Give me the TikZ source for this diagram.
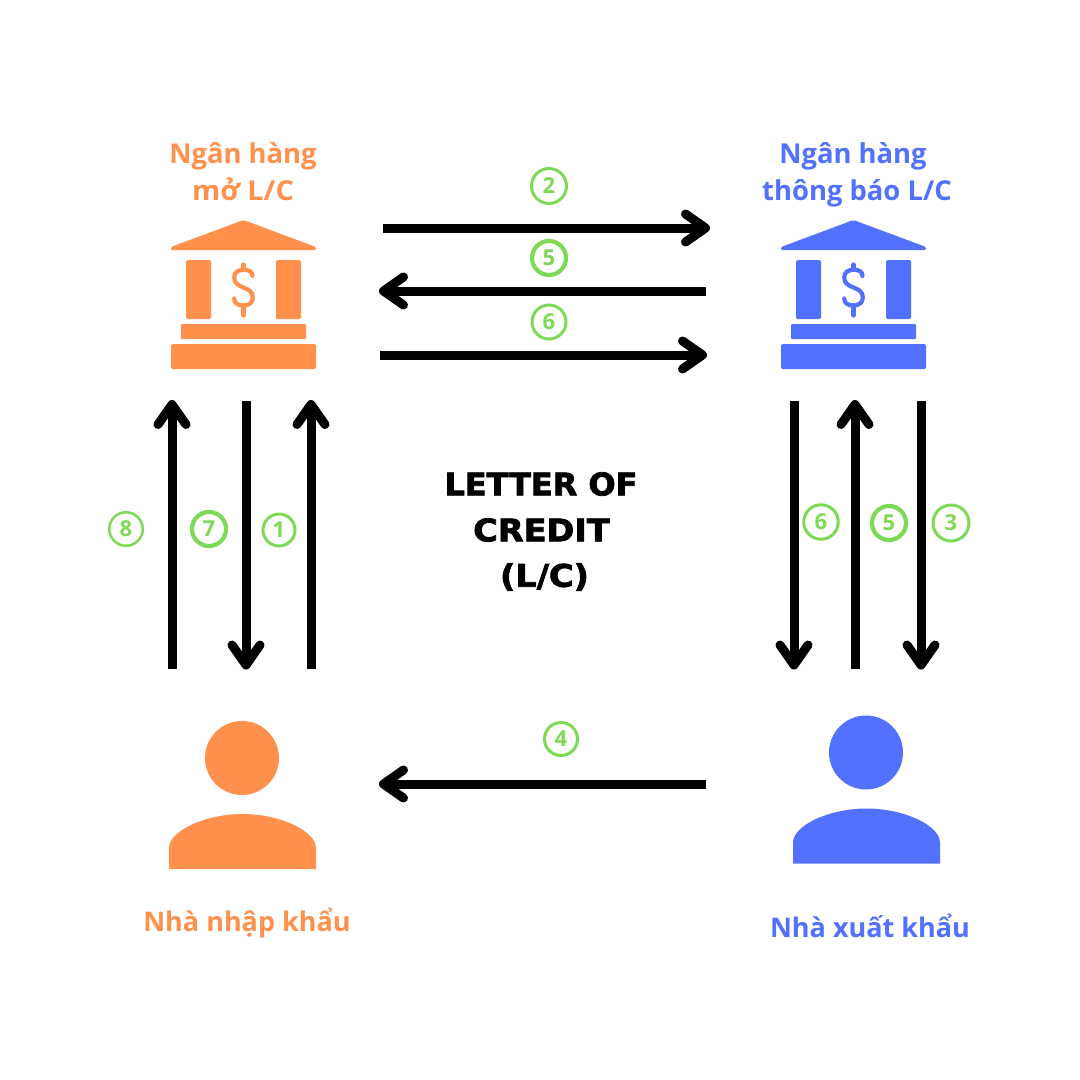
\documentclass[tikz,border=0pt]{standalone}
\usepackage{fontspec}
\usepackage{graphicx}
\setmainfont{Open Sans}
\newfontfamily\titlefont[FakeBold=2.5,FakeStretch=1.03]{DejaVu Sans Bold}
\usetikzlibrary{arrows.meta}
\definecolor{orangec}{HTML}{FF914D}
\definecolor{bluec}{HTML}{5271FF}
\definecolor{greenc}{HTML}{7ED957}
\tikzset{
  flow/.style={line width=9pt,draw=black,-{Straight Barb[round,length=20pt,width=28pt,line width=9pt]}},
  num/.style={circle,draw=greenc,text=greenc,inner sep=0pt,minimum size=#1,font=\fontsize{22}{22}\selectfont\bfseries},
  numthin/.style={num=#1,line width=3pt},
  numthick/.style={num=#1,line width=4.2pt},
  lab/.style={inner sep=0pt,anchor=base,font=\fontsize{27.4}{27.4}\selectfont\bfseries},
  labsmall/.style={inner sep=0pt,anchor=base,font=\fontsize{27}{27}\selectfont\bfseries},
  ttl/.style={inner sep=0pt,font=\titlefont\fontsize{31}{31}\selectfont}
}
\newcommand{\bankicon}[2]{%
 \begin{scope}[xshift=#1pt,fill=#2,draw=#2]
  \fill[rounded corners=1.5pt] (243.5,220)--(316,247)--(316,250)--(171,250)--(171,247)--cycle;
  \fill[rounded corners=1.5pt] (186,260) rectangle (211,319);
  \fill[rounded corners=1.5pt] (276,260) rectangle (301,319);
  \fill[rounded corners=1pt] (181,324) rectangle (306,339);
  \fill[rounded corners=1.5pt] (171,344) rectangle (316,369);
  \draw[line width=4.2pt,line cap=round] (252.5,276) .. controls (252.5,271.5) and (249,269.8) .. (243.5,269.8) .. controls (238,269.8) and (234.2,272.5) .. (234.2,277.5) .. controls (234.2,283.5) and (238.5,285.5) .. (243.5,287.5) .. controls (248.5,289.5) and (252.8,291.5) .. (252.8,297.5) .. controls (252.8,302.5) and (249,305.5) .. (243.5,305.5) .. controls (238,305.5) and (234.2,303) .. (234.2,298.5);
  \draw[line width=4.2pt,line cap=round] (243.5,264.5)--(243.5,269.8) (243.5,305.5)--(243.5,315.5);
 \end{scope}}
\newcommand{\personicon}[3]{%
 \begin{scope}[shift={(#1pt,#2pt)},fill=#3]
  \fill (242,758) circle (37pt);
  \fill (169,869)--(169,848) .. controls (169,831) and (205,814) .. (242.5,814) .. controls (280,814) and (316,831) .. (316,848)--(316,869)--cycle;
 \end{scope}}
\begin{document}
\begin{tikzpicture}[x=1pt,y=-1pt]
\useasboundingbox[fill=white] (0,0) rectangle (1080,1080);
\bankicon{0}{orangec}
\bankicon{610}{bluec}
\personicon{0}{0}{orangec}
\personicon{624}{5.5}{bluec}
% labels
\node[lab,text=orangec] (bankA1) at (243,163) {Ngân hàng};
\node[lab,text=orangec] (bankA2) at (243,200) {\scalebox{1.05}[1]{mở L/C}};
\node[lab,text=bluec] (bankB1) at (853,163) {Ngân hàng};
\node[lab,text=bluec] (bankB2) at (857,200) {thông báo L/C};
\node[labsmall,text=orangec] (imp) at (247,931) {Nhà nhập khẩu};
\node[labsmall,text=bluec] (exp) at (870,937) {Nhà xuất khẩu};
\node[ttl] (t1) at (541,484) {LETTER OF};
\node[ttl] (t2) at (541.5,530) {\scalebox{1.05}[1]{CREDIT}};
\node[ttl] (t3) at (544.5,577) {\scalebox{1.05}[1]{(L/C)}};
% endpoints
\coordinate (h1a) at (383,228); \coordinate (h1b) at (710,228);
\coordinate (h2a) at (706,291); \coordinate (h2b) at (379,291);
\coordinate (h3a) at (380,355); \coordinate (h3b) at (707,355);
\coordinate (h4a) at (706,784); \coordinate (h4b) at (379,784);
\coordinate (v1a) at (172,669); \coordinate (v1b) at (172,400);
\coordinate (v2a) at (246,401); \coordinate (v2b) at (246,669.5);
\coordinate (v3a) at (311,669); \coordinate (v3b) at (311,400);
\coordinate (v4a) at (794,401); \coordinate (v4b) at (794,669.5);
\coordinate (v5a) at (855,669); \coordinate (v5b) at (855,400);
\coordinate (v6a) at (921,401); \coordinate (v6b) at (921,669.5);
\foreach \a in {h1,h2,h3,h4,v1,v2,v3,v4,v5,v6}{\draw[flow] (\a a) -- (\a b);}
% numbers
\node[numthin=35pt] (n2) at (549,186) {2};
\node[numthick=34pt] (n5) at (549,258) {5};
\node[numthin=34pt] (n6) at (549,322) {6};
\node[numthin=33.5pt,line width=2.5pt] (n8) at (126,529) {8};
\node[numthick=34pt] (n7) at (209,529) {7};
\node[numthin=32pt] (n1) at (279,530) {1};
\node[numthin=34.5pt] (n6b) at (821,522) {6};
\node[numthick=34pt] (n5b) at (889,523) {5};
\node[numthin=36pt] (n3) at (951,523) {3};
\node[numthin=33pt] (n4) at (561,739) {4};
\end{tikzpicture}
\end{document}
